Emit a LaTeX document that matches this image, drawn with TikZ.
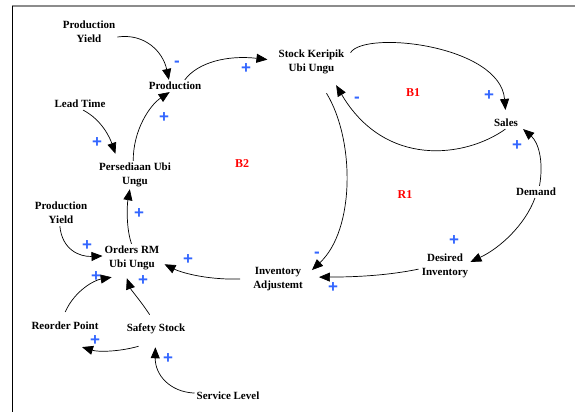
\documentclass[tikz,border=0pt]{standalone}
\usepackage{fontspec}
\setmainfont{Liberation Serif}
\newfontfamily\plusfont{Liberation Sans}
\usetikzlibrary{arrows.meta}
\definecolor{polblue}{HTML}{3366FF}
\begin{document}
\begin{tikzpicture}[x=1pt,y=1pt,
  var/.style={align=center,inner sep=2pt,font=\fontsize{11}{14}\selectfont\bfseries},
  loopname/.style={inner sep=0pt,text=red,font=\fontsize{12}{14}\selectfont\bfseries},
  pol/.style={inner sep=0pt,text=polblue,font=\plusfont\fontsize{17}{17}\selectfont\bfseries},
  link/.style={line width=0.7pt,-{Triangle[length=11pt,width=9pt]}}]
\useasboundingbox (0,0) rectangle (575,-412);
\draw[line width=1.3pt,black!45] (12,-6) -- (575,-6);
\draw[line width=1pt,black] (12,-6) -- (12,-412);
% variables
\node[var] (py1) at (89,-32) {Production\\Yield};
\node[var] (prod) at (175,-86) {Production};
\node[var] (lead) at (80,-104) {Lead Time};
\node[var] (pers) at (135,-175) {Persediaan Ubi\\Ungu};
\node[var] (stock) at (311.5,-62) {Stock Keripik\\Ubi Ungu};
\node[var] (sales) at (506,-123) {Sales};
\node[var] (demand) at (536,-192) {Demand};
\node[var] (desired) at (445,-266) {Desired\\Inventory};
\node[var] (invadj) at (278,-279) {Inventory\\Adjustemt};
\node[var] (orders) at (132,-258) {Orders RM\\Ubi Ungu};
\node[var] (py2) at (61,-213) {Production\\Yield};
\node[var] (reorder) at (65,-326) {Reorder Point};
\node[var] (safety) at (156,-329) {Safety Stock};
\node[var] (service) at (228,-396) {Service Level};
% loop names
\node[loopname] (b1) at (413,-93) {B1};
\node[loopname] (b2) at (242,-164) {B2};
\node[loopname] (r1) at (405,-195) {R1};
% links
\draw[link] (py1.-10) .. controls (145,-33) and (163,-52) .. (prod.135);
\draw[link] (prod.32) .. controls (198,-62) and (228,-55) .. ([xshift=-9pt]stock.176);
\draw[link] (lead.-63) .. controls (102,-120) and (110,-138) .. ([yshift=7pt]pers.144);
\draw[link] (pers.97) .. controls (133,-130) and (150,-105) .. (prod.-131);
\draw[link] (orders.92) .. controls (126,-228) and (127,-205) .. (pers.-110);
\draw[link] (py2.-95) .. controls (62,-250) and (80,-257) .. (orders.176);
\draw[link] ([yshift=8pt]reorder.88) .. controls (75,-290) and (95,-280) .. ([yshift=-5pt]orders.-145);
\draw[link] ([yshift=7pt]safety.131) .. controls (140,-300) and (131,-290) .. ([yshift=-6pt]orders.-110);
\draw[link] ([xshift=-11pt]invadj.180) .. controls (205,-280) and (180,-272) .. ([xshift=3pt]orders.-12);
\draw[link] ([shift={(14pt,-10pt)}]safety.south west) .. controls (118,-352) and (98,-352) .. ([shift={(17pt,-15pt)}]reorder.south);
\draw[link] (service.175) .. controls (170,-392) and (155,-375) .. ([yshift=-11pt]safety.-95);
\draw[link] ([xshift=4pt]stock.15) .. controls (365,-30) and (500,-45) .. ([yshift=7pt]sales.95);
\draw[link] (sales.-95) .. controls (465,-158) and (385,-168) .. ([yshift=-9pt]stock.-30);
\draw[link] (demand.60) .. controls (544,-160) and (538,-142) .. ([xshift=3pt]sales.south east);
\draw[link] (demand.-100) .. controls (525,-225) and (500,-248) .. (desired.9);
\draw[link] ([xshift=-1pt]desired.-173) .. controls (390,-275) and (360,-277) .. ([xshift=14pt]invadj.4);
\draw[link] ([shift={(15pt,-17pt)}]stock.south) .. controls (355,-140) and (355,-230) .. ([shift={(7pt,-5pt)}]invadj.north east);
% polarities
\node[pol] (p1) at (177,-64) {-};
\node[pol] (p2) at (246,-69) {+};
\node[pol] (p3) at (97,-143) {+};
\node[pol] (p4) at (164,-118) {+};
\node[pol] (p5) at (139,-214) {+};
\node[pol] (p6) at (87,-246) {+};
\node[pol] (p7) at (96,-277) {+};
\node[pol] (p8) at (143,-281) {+};
\node[pol] (p9) at (188,-260) {+};
\node[pol] (p10) at (95,-341) {+};
\node[pol] (p11) at (168,-359) {+};
\node[pol] (p12) at (489,-96) {+};
\node[pol] (p13) at (357,-100) {-};
\node[pol] (p14) at (517,-146) {+};
\node[pol] (p15) at (454,-241) {+};
\node[pol] (p16) at (333,-288) {+};
\node[pol] (p17) at (317,-255) {-};
\end{tikzpicture}
\end{document}
